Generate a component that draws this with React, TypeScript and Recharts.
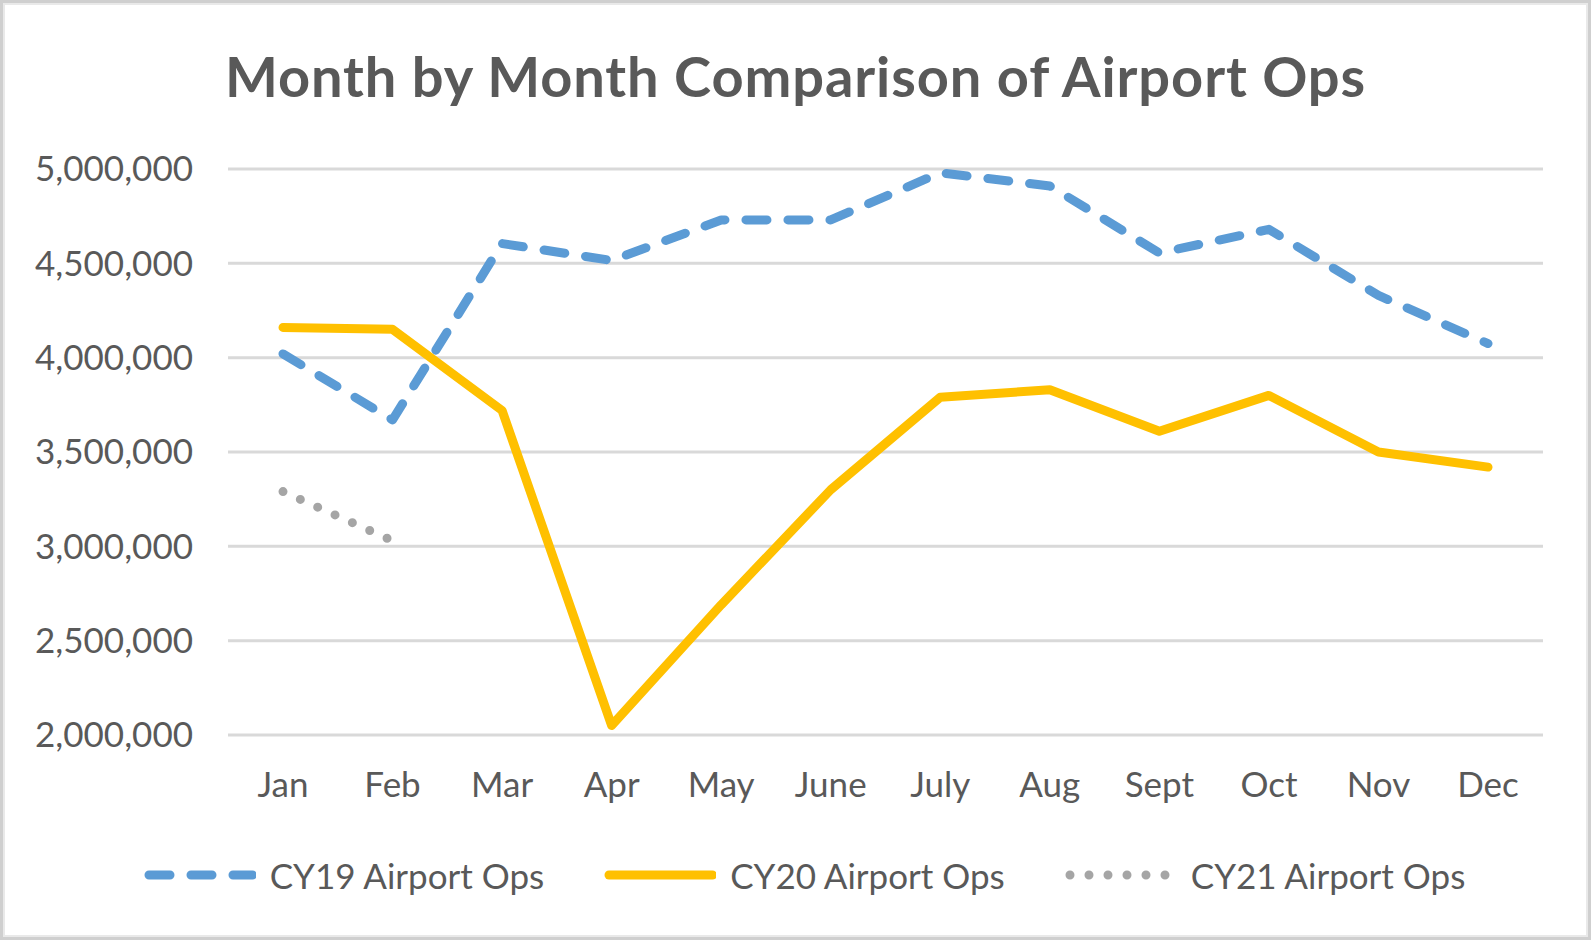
import React from 'react';
import { LineChart, Line, XAxis, YAxis, CartesianGrid, Legend } from 'recharts';

const months = ['Jan', 'Feb', 'Mar', 'Apr', 'May', 'June', 'July', 'Aug', 'Sept', 'Oct', 'Nov', 'Dec'];
const cy19 = [4020000, 3670000, 4605000, 4515000, 4730000, 4730000, 4980000, 4910000, 4555000, 4680000, 4330000, 4075000];
const cy20 = [4160000, 4150000, 3720000, 2050000, 2690000, 3300000, 3790000, 3830000, 3610000, 3800000, 3500000, 3420000];
const cy21: (number | null)[] = [3290000, 3030000, null, null, null, null, null, null, null, null, null, null];
const yTicks = [2000000, 2500000, 3000000, 3500000, 4000000, 4500000, 5000000];
const seriesNames = { cy19: 'CY19 Airport Ops', cy20: 'CY20 Airport Ops', cy21: 'CY21 Airport Ops' };

const data = months.map((m, i) => ({ month: m, cy19: cy19[i], cy20: cy20[i], cy21: cy21[i] }));

const FONT = 'Lato, "Open Sans", sans-serif';
const TEXT = '#595959';

const styles: Record<string, { color: string; width: number; dash?: string }> = {
  cy19: { color: '#5B9BD5', width: 9, dash: '21 21' },
  cy20: { color: '#FFC000', width: 9 },
  cy21: { color: '#A5A5A5', width: 9, dash: '0 19' },
};

const fmt = (v: number) => v.toLocaleString('en-US');

const LegendContent = (props: any) => {
  const payload = props.payload || [];
  return (
    <div style={{ display: 'flex', justifyContent: 'center', alignItems: 'center', fontFamily: FONT, fontSize: 35, color: TEXT, paddingLeft: 18 }}>
      {payload.map((p: any, i: number) => {
        const s = styles[p.dataKey];
        return (
          <div key={i} style={{ display: 'flex', alignItems: 'center', marginRight: i < payload.length - 1 ? 60 : 0 }}>
            <svg width={112} height={14} style={{ marginRight: 14 }}>
              <line x1={s.width / 2 + 0.5} y1={7} x2={112 - s.width / 2 + 1} y2={7} stroke={s.color} strokeWidth={s.width}
                strokeLinecap="round" strokeDasharray={s.dash} />
            </svg>
            <span style={{ lineHeight: '40px' }}>{p.value}</span>
          </div>
        );
      })}
    </div>
  );
};

export default function App() {
  return (
    <div style={{ position: 'relative', width: 1591, height: 940, background: '#fff', overflow: 'hidden' }}>
      <style>{`body{margin:0;}`}</style>
      <div style={{ position: 'absolute', left: 0, top: 36, width: 1591, textAlign: 'center', fontFamily: FONT, fontWeight: 700, fontSize: 56, letterSpacing: 0.9, color: TEXT, lineHeight: '80px' }}>
        Month by Month Comparison of Airport Ops
      </div>
      <LineChart width={1591} height={940} data={data} margin={{ top: 169, right: 48, bottom: 145, left: 0 }}>
        <CartesianGrid horizontal vertical={false} stroke="#D9D9D9" strokeWidth={3} />
        <XAxis dataKey="month" axisLine={false} tickLine={false} tickSize={0} tickMargin={37} height={60}
          padding={{ left: 55, right: 55 }} interval={0}
          tick={{ fill: TEXT, fontSize: 35, fontFamily: FONT }} />
        <YAxis domain={[2000000, 5000000]} ticks={yTicks} axisLine={false} tickLine={false} tickSize={0} tickMargin={35}
          width={228} tickFormatter={fmt} interval={0}
          tick={{ fill: TEXT, fontSize: 35, fontFamily: FONT }} />
        <Legend layout="horizontal" verticalAlign="middle" align="center" content={<LegendContent />}
          wrapperStyle={{ position: 'absolute', top: 855, left: 0, width: 1591, height: 40 }} />
        <Line dataKey="cy19" name={seriesNames.cy19} stroke={styles.cy19.color} strokeWidth={styles.cy19.width}
          strokeDasharray={styles.cy19.dash} strokeLinecap="round" strokeLinejoin="round" dot={false} activeDot={false}
          isAnimationActive={false} type="linear" />
        <Line dataKey="cy20" name={seriesNames.cy20} stroke={styles.cy20.color} strokeWidth={styles.cy20.width}
          strokeLinecap="round" strokeLinejoin="round" dot={false} activeDot={false}
          isAnimationActive={false} type="linear" />
        <Line dataKey="cy21" name={seriesNames.cy21} stroke={styles.cy21.color} strokeWidth={styles.cy21.width}
          strokeDasharray={styles.cy21.dash} strokeLinecap="round" strokeLinejoin="round" dot={false} activeDot={false}
          isAnimationActive={false} type="linear" />
      </LineChart>
      <div style={{ position: 'absolute', left: 0, top: 0, width: 1591, height: 940, boxSizing: 'border-box', border: '3px solid #CFCFCF', boxShadow: 'inset 0 0 0 2px #E9E9E9', pointerEvents: 'none' }} />
    </div>
  );
}
